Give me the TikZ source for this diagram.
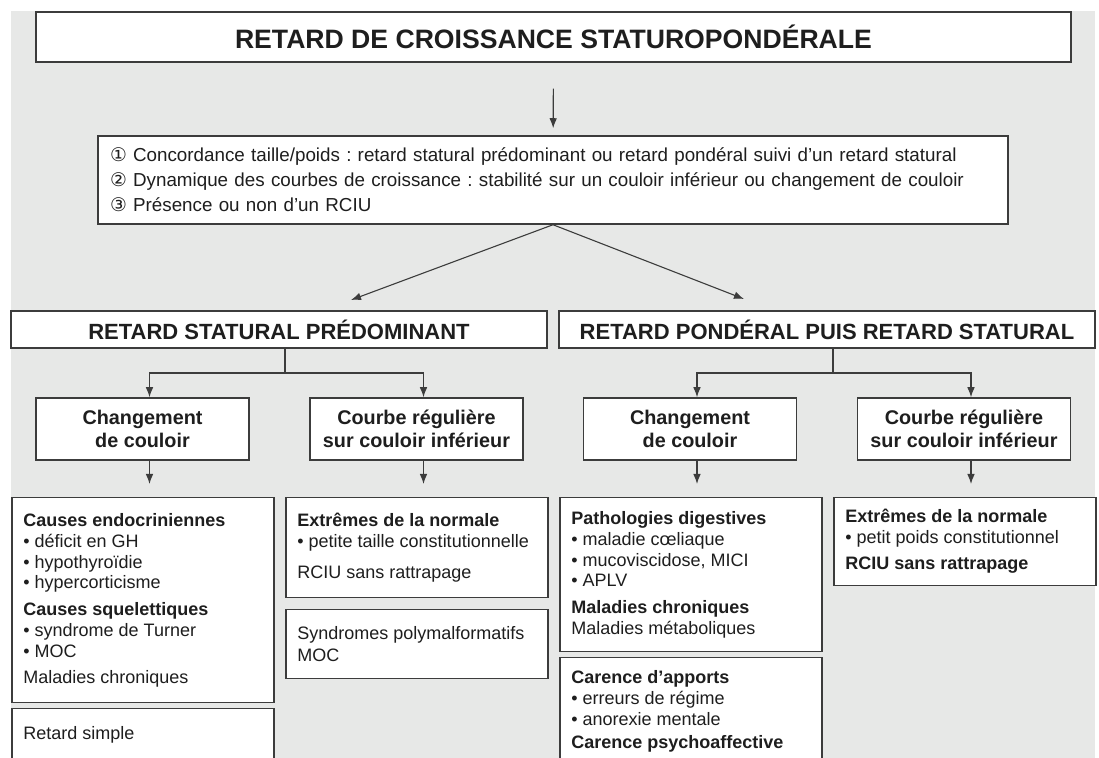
\documentclass[tikz,border=0pt]{standalone}
\usepackage{fontspec}
\setmainfont{Liberation Sans}
\newfontfamily\circfont{DejaVu Sans}
\usetikzlibrary{arrows.meta,positioning}
\frenchspacing

\definecolor{fondgris}{HTML}{E7E8E7}
\definecolor{trait}{HTML}{3C3C3C}
\definecolor{texte}{HTML}{1E1E1E}

\tikzstyle{tikzcadre} = [rectangle, draw=trait, fill=white, line width=0.75pt, text=texte, inner sep=0pt]
\tikzstyle{tikztitre} = [tikzcadre, minimum width=517.5pt, minimum height=25pt, text centered, font=\bfseries\fontsize{13.3}{16}\selectfont]
\tikzstyle{tikzcriteres} = [tikzcadre, minimum width=455pt, minimum height=44pt, text width=443pt, align=left, font=\fontsize{9.4}{12.5}\selectfont]
\tikzstyle{tikzgroupe} = [tikzcadre, minimum width=268pt, minimum height=18.5pt, text centered, font=\bfseries\fontsize{11}{13}\selectfont]
\tikzstyle{tikzcourbe} = [tikzcadre, minimum width=106.5pt, minimum height=31pt, align=center, font=\bfseries\fontsize{9.9}{11.5}\selectfont]
\tikzstyle{tikzliste} = [tikzcadre, anchor=north west, minimum width=131pt]
\tikzstyle{tikztexte} = [anchor=north west, align=left, inner sep=0pt, text=texte, font=\fontsize{9}{10.4}\selectfont]
\tikzstyle{tikzfleche} = [-{Latex[length=5pt,width=3.8pt]}, draw=trait, line width=0.55pt]

\begin{document}
\begin{tikzpicture}[x=0.5pt, y=-0.5pt]
    \clip (0,0) rectangle (1099,758);
    \fill[fondgris] (11,11) rectangle (1095,758);

    \node (titre) [tikztitre] at (553.5,37) {RETARD DE CROISSANCE STATUROPONDÉRALE};
    \node (criteres) [tikzcriteres] at (553,180) {{\circfont ①} Concordance taille/poids : retard statural prédominant ou retard pondéral suivi d’un retard statural\\
        {\circfont ②} Dynamique des courbes de croissance : stabilité sur un couloir inférieur ou changement de couloir\\
        {\circfont ③} Présence ou non d’un RCIU};

    \node (statural) [tikzgroupe] at (279,329.5) {RETARD STATURAL PRÉDOMINANT};
    \node (ponderal) [tikzgroupe] at (827,329.5) {RETARD PONDÉRAL PUIS RETARD STATURAL};

    \node (sChgt) [tikzcourbe] at (142.5,429) {Changement\\de couloir};
    \node (sReg)  [tikzcourbe] at (416.5,429) {Courbe régulière\\sur couloir inférieur};
    \node (pChgt) [tikzcourbe] at (690,429) {Changement\\de couloir};
    \node (pReg)  [tikzcourbe] at (964,429) {Courbe régulière\\sur couloir inférieur};

    % cadres du bas
    \node (endo)    [tikzliste, minimum height=102.5pt] at (11,497) {};
    \node (simple)  [tikzliste, minimum height=30pt] at (11,708) {};
    \node (normS)   [tikzliste, minimum height=50pt] at (285,497) {};
    \node (poly)    [tikzliste, minimum height=34.5pt] at (285,609) {};
    \node (digest)  [tikzliste, minimum height=77pt] at (559,497) {};
    \node (carence) [tikzliste, minimum height=60pt] at (559,657) {};
    \node (normP)   [tikzliste, minimum height=44pt] at (833,497) {};

    \node (endoTxt) [tikztexte] at (23,513) {\textbf{Causes endocriniennes}\\
        • déficit en GH\\ • hypothyroïdie\\ • hypercorticisme\\[3pt]
        \textbf{Causes squelettiques}\\ • syndrome de Turner\\ • MOC\\[2.5pt]
        Maladies chroniques};
    \node (simpleTxt) [tikztexte] at (23,726) {Retard simple};
    \node (normSTxt) [tikztexte] at (297,513) {\textbf{Extrêmes de la normale}\\
        • petite taille constitutionnelle\\[5pt] RCIU sans rattrapage};
    \node (polyTxt) [tikztexte] at (297,626) {Syndromes polymalformatifs\\[0.5pt] MOC};
    \node (digestTxt) [tikztexte] at (571,511) {\textbf{Pathologies digestives}\\
        • maladie cœliaque\\ • mucoviscidose, MICI\\ • APLV\\[3pt]
        \textbf{Maladies chroniques}\\ Maladies métaboliques};
    \node (carenceTxt) [tikztexte] at (571,670) {\textbf{Carence d’apports}\\
        • erreurs de régime\\ • anorexie mentale\\[1.5pt] \textbf{Carence psychoaffective}};
    \node (normPTxt) [tikztexte] at (845,509) {\textbf{Extrêmes de la normale}\\
        • petit poids constitutionnel\\[2.5pt] \textbf{RCIU sans rattrapage}};

    \coordinate (vStatural) at (351,300);
    \coordinate (vPonderal) at (744,299);

    \draw [tikzfleche, shorten <=13pt, shorten >=3.5pt] (titre) -- (criteres);
    \draw [tikzfleche] (criteres.south) -- (vStatural);
    \draw [tikzfleche] (criteres.south) -- (vPonderal);

    \draw [draw=trait, line width=0.55pt] ([xshift=3pt]statural.south) -- ([xshift=3pt]statural.south |- 0,373) coordinate (fStatural);
    \draw [draw=trait, line width=0.55pt] ([xshift=3pt]ponderal.south) -- ([xshift=3pt]ponderal.south |- 0,373) coordinate (fPonderal);
    \draw [tikzfleche] (fStatural) -| ([xshift=3.5pt]sChgt.north);
    \draw [tikzfleche] (fStatural) -| ([xshift=3.5pt]sReg.north);
    \draw [tikzfleche] (fPonderal) -| ([xshift=3.5pt]pChgt.north);
    \draw [tikzfleche] (fPonderal) -| ([xshift=3.5pt]pReg.north);

    \draw [tikzfleche, shorten >=6.5pt] ([xshift=3.5pt]sChgt.south) -- ([xshift=3.5pt]sChgt.south |- endo.north);
    \draw [tikzfleche, shorten >=6.5pt] ([xshift=3.5pt]sReg.south) -- ([xshift=3.5pt]sReg.south |- normS.north);
    \draw [tikzfleche, shorten >=6.5pt] ([xshift=3.5pt]pChgt.south) -- ([xshift=3.5pt]pChgt.south |- digest.north);
    \draw [tikzfleche, shorten >=6.5pt] ([xshift=3.5pt]pReg.south) -- ([xshift=3.5pt]pReg.south |- normP.north);
\end{tikzpicture}
\end{document}
